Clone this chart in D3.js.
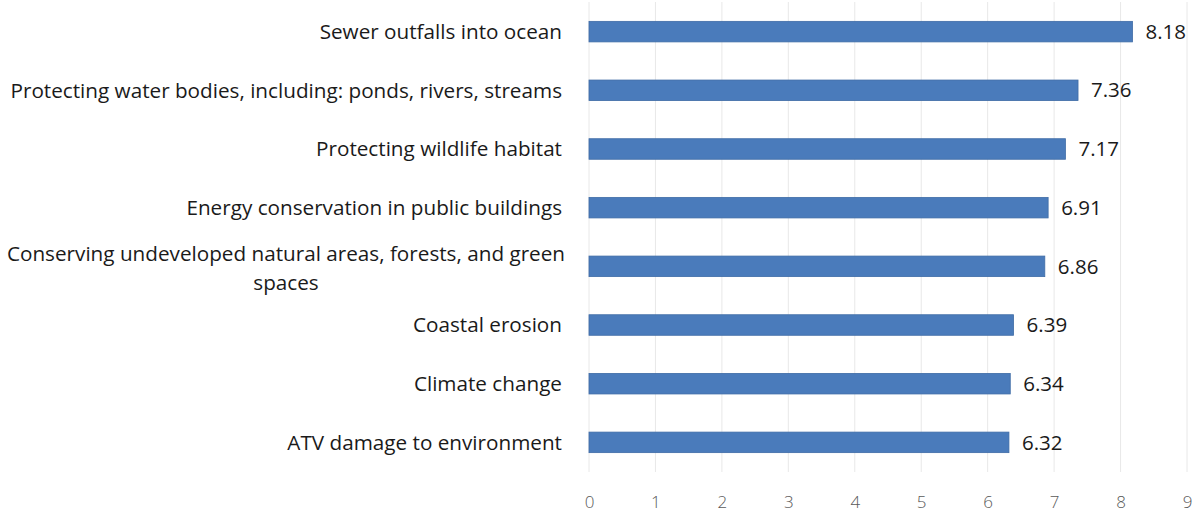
<!DOCTYPE html>
<html>
<head>
<meta charset="utf-8">
<script src="https://cdn.jsdelivr.net/npm/d3@7"></script>
<style>
  html, body { margin: 0; padding: 0; background: #fff; }
  svg { display: block; }
</style>
</head>
<body>
<svg id="chart" width="1204" height="515"></svg>
<script>
// Category labels, top to bottom (one entry wraps onto two lines)
const categories = [
  ["Sewer outfalls into ocean"],
  ["Protecting water bodies, including: ponds, rivers, streams"],
  ["Protecting wildlife habitat"],
  ["Energy conservation in public buildings"],
  ["Conserving undeveloped natural areas, forests, and green", "spaces"],
  ["Coastal erosion"],
  ["Climate change"],
  ["ATV damage to environment"]
];
const values = [8.18, 7.36, 7.17, 6.91, 6.86, 6.39, 6.34, 6.32];
const tickValues = [0, 1, 2, 3, 4, 5, 6, 7, 8, 9];

(function () {
  const svg = d3.select("#chart");
  const font = "'Open Sans', sans-serif";

  const plotLeft = 589, plotRight = 1187, plotTop = 2, plotBottom = 472;
  const labelRight = 562;

  const x = d3.scaleLinear().domain([0, 9]).range([plotLeft, plotRight]);
  const y = d3.scaleBand()
    .domain(d3.range(categories.length))
    .range([plotTop, plotBottom])
    .paddingInner(0.65)
    .paddingOuter(0.33);

  // vertical gridlines
  svg.append("g")
    .selectAll("line")
    .data(tickValues)
    .join("line")
    .attr("x1", d => x(d)).attr("x2", d => x(d))
    .attr("y1", plotTop).attr("y2", plotBottom)
    .attr("stroke", "#e8e8e8")
    .attr("stroke-width", 1);

  // bars
  svg.append("g")
    .selectAll("rect")
    .data(values)
    .join("rect")
    .attr("x", x(0))
    .attr("y", (d, i) => y(i))
    .attr("width", d => x(d) - x(0))
    .attr("height", y.bandwidth())
    .attr("fill", "#4a7bbb")
    .attr("stroke", "#3f6ca6")
    .attr("stroke-width", 0.8);

  // value labels
  svg.append("g")
    .selectAll("text")
    .data(values)
    .join("text")
    .attr("x", d => x(d) + 13)
    .attr("y", (d, i) => y(i) + y.bandwidth() / 2)
    .attr("dy", "0.35em")
    .attr("font-family", font)
    .attr("font-size", 20.5)
    .attr("fill", "#1a1a1a")
    .text(d => d.toFixed(2));

  // category labels
  const catSize = 20.7;
  const catG = svg.append("g");
  categories.forEach((lines, i) => {
    const cy = y(i) + y.bandwidth() / 2;
    const lh = 29;
    if (lines.length === 1) {
      catG.append("text")
        .attr("x", labelRight)
        .attr("y", cy)
        .attr("dy", "0.35em")
        .attr("text-anchor", "end")
        .attr("font-family", font)
        .attr("font-size", catSize)
        .attr("fill", "#1a1a1a")
        .text(lines[0]);
    } else {
      const t = catG.append("text")
        .attr("font-family", font)
        .attr("font-size", catSize)
        .attr("fill", "#1a1a1a")
        .attr("text-anchor", "middle");
      lines.forEach((ln, j) => {
        t.append("tspan")
          .attr("x", labelRight - 276)
          .attr("y", cy - lh / 2 + 2 + j * lh)
          .attr("dy", "0.35em")
          .text(ln);
      });
    }
  });

  // x axis tick labels
  const axis = d3.axisBottom(x).tickValues(tickValues).tickSize(0).tickPadding(0);
  const ag = svg.append("g")
    .attr("transform", "translate(0, 496)")
    .call(axis);
  ag.select(".domain").remove();
  ag.selectAll("text")
    .attr("font-family", font)
    .attr("font-size", 17)
    .attr("font-weight", 300)
    .attr("fill", "#595959");
})();
</script>
</body>
</html>
